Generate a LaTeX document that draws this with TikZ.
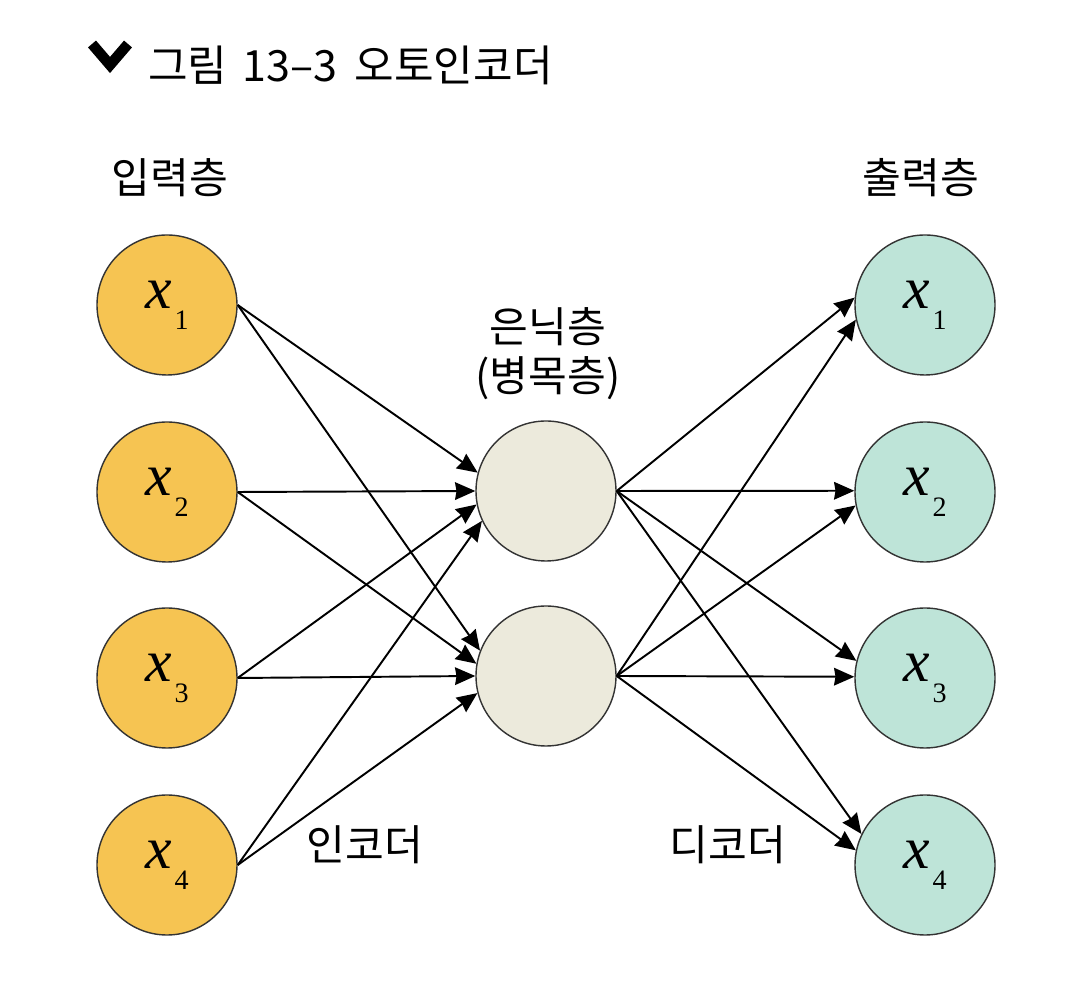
\documentclass[tikz,border=0pt]{standalone}
\usepackage{fontspec}
\setmainfont{Noto Sans CJK KR}
\newfontfamily\serifx{Liberation Serif}
\usetikzlibrary{arrows.meta}
\definecolor{inputfill}{RGB}{246,196,82}
\definecolor{hiddenfill}{RGB}{236,234,220}
\definecolor{outputfill}{RGB}{190,228,216}
% x with its index, as set in the units
\newcommand{\xsub}[1]{{\serifx\itshape\fontsize{34}{34}\selectfont x}\kern1.5pt\raisebox{-0.42cm}{\serifx\fontsize{16}{16}\selectfont #1}}

\begin{document}
\begin{tikzpicture}[
  unit/.style={circle, draw=black!80, line width=0.8pt, minimum size=2.8cm, inner sep=0pt},
  layer/.style={font=\fontsize{24}{28}\selectfont, inner sep=0pt},
  link/.style={line width=1.1pt, -{Stealth[length=11.5pt,width=10pt,inset=0.8pt]}}
]
\useasboundingbox (0,0) rectangle (21.68,19.98);

% Title with its chevron
\draw[line width=0.21cm] (1.84,19.1) -- (2.2,18.68) -- (2.56,19.1);
\node[anchor=west, inner sep=0pt, font=\fontsize{24.5}{27}\selectfont] (title) at (2.96,18.68) {그림\hspace{0.35em}13–3\hspace{0.4em}오토인코더};

% Layer names
\node[layer] (inlabel) at (3.4,16.42) {입력층};
\node[layer] (outlabel) at (18.42,16.42) {출력층};
\node[layer, align=center] (hidlabel) at (10.96,12.9) {은닉층\\(병목층)};
\node[layer] (enc) at (7.3,3.08) {인코더};
\node[layer] (dec) at (14.56,3.08) {디코더};

% Input units
\node[unit, fill=inputfill] (in1) at (3.34,13.88) {\xsub{1}};
\node[unit, fill=inputfill] (in2) at (3.34,10.14) {\xsub{2}};
\node[unit, fill=inputfill] (in3) at (3.34,6.42) {\xsub{3}};
\node[unit, fill=inputfill] (in4) at (3.34,2.68) {\xsub{4}};

% Hidden units
\node[unit, fill=hiddenfill] (hid1) at (10.92,10.16) {};
\node[unit, fill=hiddenfill] (hid2) at (10.92,6.46) {};

% Output units
\node[unit, fill=outputfill] (out1) at (18.5,13.88) {\xsub{1}};
\node[unit, fill=outputfill] (out2) at (18.5,10.14) {\xsub{2}};
\node[unit, fill=outputfill] (out3) at (18.5,6.42) {\xsub{3}};
\node[unit, fill=outputfill] (out4) at (18.5,2.68) {\xsub{4}};

% Encoder links
\foreach \i/\a/\b in {1/165/159,2/180/170,3/191/180,4/205/194} {
  \draw[link] (in\i.east) -- (hid1.\a);
  \draw[link] (in\i.east) -- (hid2.\b);
}

% Decoder links
\foreach \o/\a/\b in {1/174/192,2/179/191,3/166/179,4/154/168} {
  \draw[link] (hid1.east) -- (out\o.\a);
  \draw[link] (hid2.east) -- (out\o.\b);
}
\end{tikzpicture}
\end{document}
